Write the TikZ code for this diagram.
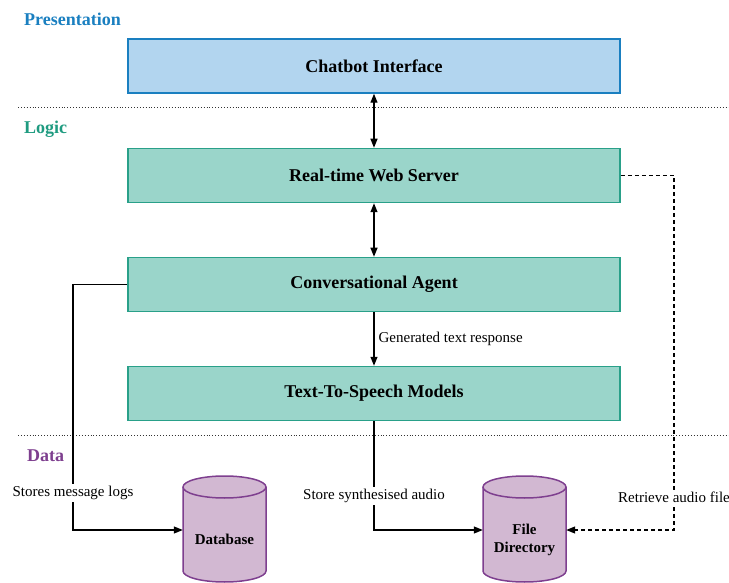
\documentclass[tikz,border=0pt]{standalone}
\usepackage{fontspec}
\setmainfont{Liberation Serif}
\usetikzlibrary{arrows.meta}
\definecolor{presblue}{HTML}{1A7FC0}
\definecolor{presfill}{HTML}{B2D5EF}
\definecolor{logicteal}{HTML}{1F9B80}
\definecolor{logicfill}{HTML}{9AD5CA}
\definecolor{logicstroke}{HTML}{29A089}
\definecolor{datapurple}{HTML}{7E3F8F}
\definecolor{datafill}{HTML}{D2B8D2}
\tikzset{
  layerlabel/.style={anchor=west, font=\fontsize{18}{20}\selectfont\bfseries, inner sep=0pt},
  presbox/.style={draw=presblue, fill=presfill, line width=1.5pt, minimum width=492pt, minimum height=54pt, font=\fontsize{18}{20}\selectfont\bfseries, inner sep=0pt},
  logicbox/.style={draw=logicstroke, fill=logicfill, line width=1.5pt, minimum width=492pt, minimum height=54pt, font=\fontsize{18}{20}\selectfont\bfseries, inner sep=0pt},
  sep/.style={dotted, line width=0.9pt, black!80},
  conn/.style={line width=1.2pt, -{Triangle[length=9pt,width=7pt]}},
  biconn/.style={line width=1.2pt, {Triangle[length=9pt,width=7pt]}-{Triangle[length=9pt,width=7pt]}},
  dashconn/.style={line width=1.2pt, dashed, dash pattern=on 4pt off 3pt, -{Triangle[length=9pt,width=7pt]}},
  elabel/.style={font=\fontsize{15}{17}\selectfont, fill=white, inner sep=2pt},
  cylarea/.style={minimum width=83pt, minimum height=106pt, inner sep=0pt},
  cyltext/.style={font=\fontsize{15}{18}\selectfont\bfseries, align=center, inner sep=0pt}
}
\newcommand{\drawcyl}[3]{% center x, top y, bottom y
  \pgfmathsetmacro{\cylL}{#1-41.5}
  \pgfmathsetmacro{\cylR}{#1+41.5}
  \pgfmathsetmacro{\cylT}{#2+11}
  \pgfmathsetmacro{\cylB}{#3-11}
  \draw[draw=datapurple, fill=datafill, line width=1.5pt]
    (\cylL,\cylT) -- (\cylL,\cylB) arc[start angle=180, end angle=360, x radius=41.5, y radius=-11]
    -- (\cylR,\cylT) arc[start angle=0, end angle=180, x radius=41.5, y radius=-11] -- cycle;
  \draw[draw=datapurple, line width=1.5pt] (\cylL,\cylT) arc[start angle=180, end angle=360, x radius=41.5, y radius=-11];
}
\begin{document}
\begin{tikzpicture}[x=1pt, y=-1pt]
\useasboundingbox (0,0) rectangle (729,583);
% layer labels
\node[layerlabel, text=presblue] (lpres) at (24,19) {Presentation};
\node[layerlabel, text=logicteal] (llogic) at (24,129) {Logic};
\node[layerlabel, text=datapurple] (ldata) at (27,456) {Data};
% separators
\coordinate (s1a) at (18,107); \coordinate (s1b) at (729,107);
\coordinate (s2a) at (18,435); \coordinate (s2b) at (729,435);
\draw[sep] (s1a) -- (s1b);
\draw[sep] (s2a) -- (s2b);
% boxes
\node[presbox] (chat) at (374,66) {Chatbot Interface};
\node[logicbox] (web) at (374,175.5) {Real-time Web Server};
\node[logicbox] (agent) at (374,284.5) {Conversational Agent};
\node[logicbox] (tts) at (374,393.5) {Text-To-Speech Models};
% cylinders
\drawcyl{224.5}{476}{582}
\drawcyl{524.5}{476}{582}
\node[cylarea] (db) at (224.5,530) {};
\node[cylarea] (fd) at (524.5,530) {};
\node[cyltext] (dbt) at (224.5,539) {Database};
\node[cyltext] (fdt) at (524.5,540) {File\\Directory};
% connectors
\draw[biconn] (chat.south) -- (web.north);
\draw[biconn] (web.south) -- (agent.north);
\draw[conn] (agent.south) -- node[right, font=\fontsize{15}{17}\selectfont, inner sep=4pt] (lgen) {Generated text response} (tts.north);
\coordinate (c1) at (73,284.5);
\coordinate (c2) at (73,530);
\draw[conn] (agent.west) -- (c1) -- (c2) -- (db.west);
\node[elabel] (lstore) at (73,493) {Stores message logs};
\coordinate (c3) at (374,530);
\draw[conn] (tts.south) -- (c3) -- (fd.west);
\node[elabel] (lsynth) at (374,496) {Store synthesised audio};
\coordinate (c4) at (674,175.5);
\coordinate (c5) at (674,530);
\draw[dashconn] (web.east) -- (c4) -- (c5) -- (fd.east);
\node[elabel] (lret) at (674,497) {Retrieve audio file};
\end{tikzpicture}
\end{document}
